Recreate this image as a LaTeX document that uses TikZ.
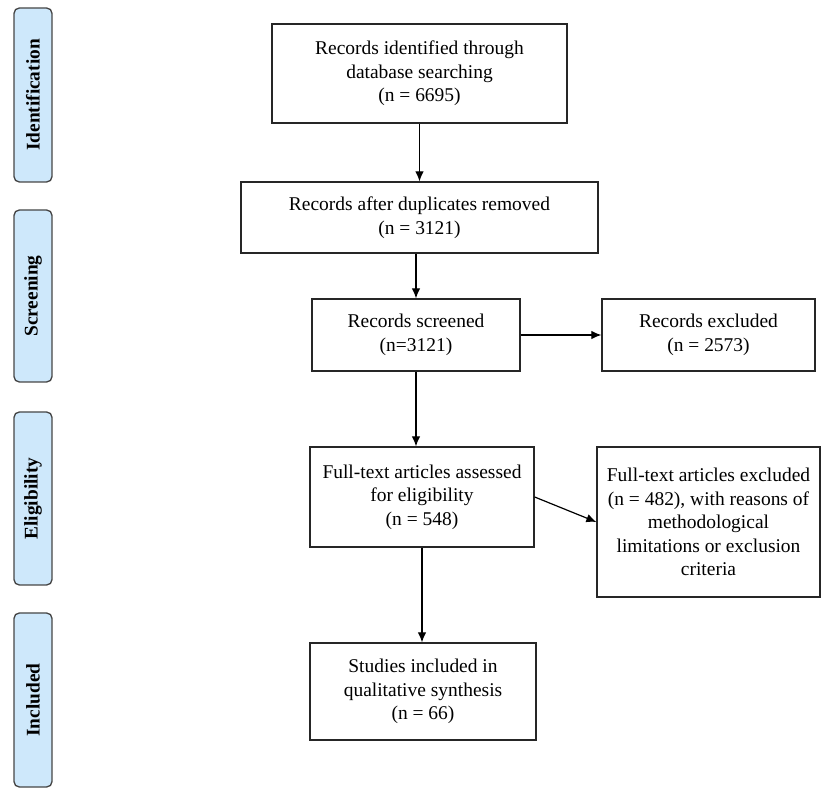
\documentclass[tikz,border=0pt]{standalone}
\usepackage{fontspec}
\setmainfont{Liberation Serif}
\usetikzlibrary{arrows.meta}
\definecolor{phasefill}{RGB}{206,232,251}
\definecolor{phaseline}{RGB}{70,70,70}
\tikzset{
  box/.style={draw=black!85, line width=1pt, align=center, inner sep=2pt,
    font=\fontsize{14.6}{17.6}\selectfont},
  phase/.style={draw=phaseline, fill=phasefill, line width=1pt, rounded corners=4pt,
    rotate=90, minimum height=28.5pt, inner sep=0pt,
    font=\fontsize{14.5}{14}\selectfont\bfseries},
  arr/.style={line width=0.9pt, -{Latex[length=7.5pt,width=6.5pt]}}
}
\begin{document}
\begin{tikzpicture}[x=0.75pt,y=-0.75pt]
\useasboundingbox (0,0) rectangle (829,791);
% phase labels
\node[phase, minimum width=130.5pt] (pid) at (33,95) {Identification};
\node[phase, minimum width=129pt] (psc) at (33,296) {Screening};
\node[phase, minimum width=129.75pt] (pel) at (33,498.5) {Eligibility};
\node[phase, minimum width=130.5pt] (pin) at (33,700) {Included};
% boxes
\node[box, minimum width=221.25pt, minimum height=74.25pt] (b1) at (419.5,73.5)
  {Records identified through\\database searching\\(n = 6695)};
\node[box, minimum width=267.75pt, minimum height=53.25pt] (b2) at (419.5,217.5)
  {Records after duplicates removed\\(n = 3121)};
\node[box, minimum width=156pt, minimum height=54pt] (b3) at (416,335)
  {Records screened\\(n=3121)};
\node[box, minimum width=159.75pt, minimum height=54pt] (b4) at (708.5,335)
  {Records excluded\\(n = 2573)};
\node[box, minimum width=168pt, minimum height=75pt] (b5) at (422,497)
  {Full-text articles assessed\\for eligibility\\(n = 548)};
\node[box, minimum width=167.25pt, minimum height=112.5pt] (b6) at (708.5,522)
  {Full-text articles excluded\\(n = 482), with reasons of\\methodological\\limitations or exclusion\\criteria};
\node[box, minimum width=169.5pt, minimum height=72.75pt] (b7) at (423,691.5)
  {Studies included in\\qualitative synthesis\\(n = 66)};
% connectors
\draw[arr] (b1.south) -- (b2.north);
\draw[arr] (b3.north |- b2.south) -- (b3.north);
\draw[arr] (b3.east) -- (b4.west);
\draw[arr] (b3.south) -- (b3.south |- b5.north);
\draw[arr] (b5.east) -- (b6.west);
\draw[arr] (b5.south) -- (b5.south |- b7.north);
\end{tikzpicture}
\end{document}
